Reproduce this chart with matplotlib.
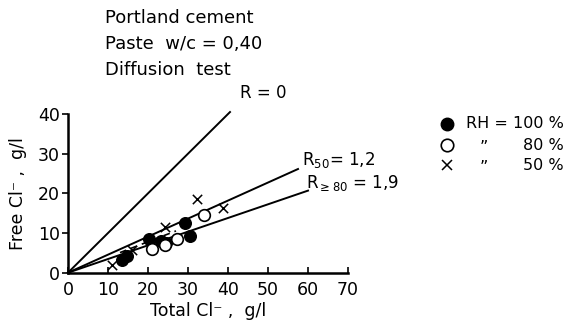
import matplotlib
matplotlib.use("Agg")
import matplotlib.pyplot as plt
from matplotlib.lines import Line2D
import numpy as np

# total vs free chloride, g/l
RH100_TOTAL = [13.4, 14.7, 20.3, 23.3, 24.6, 29.2, 30.5]
RH100_FREE = [3.2, 4.2, 8.5, 8.0, 7.4, 12.6, 9.2]
RH80_TOTAL = [20.9, 24.2, 27.3, 34.0]
RH80_FREE = [6.0, 7.0, 8.4, 14.6]
RH50_TOTAL = [10.9, 15.9, 24.2, 32.3, 38.8]
RH50_FREE = [1.9, 5.6, 11.6, 18.5, 16.3]

# binding lines free = total / (1 + R)
R_LINES = [
    (0.0, 40.5, "R = 0"),
    (1.2, 57.5, "R$_{50}$= 1,2"),
    (1.9, 60.0, "R$_{\\geq 80}$ = 1,9"),
]
DASH_X = [13.0, 27.0]
DASH_SLOPE = 0.39

X_TICKS = [0, 10, 20, 30, 40, 50, 60, 70]
Y_TICKS = [0, 10, 20, 30, 40]

LEGEND_FIRST = "RH = 100 %"
LEGEND_RIGHT = ["80 %", "50 %"]
DITTO = "\u201d"

plt.rcParams["font.family"] = "DejaVu Sans"
plt.rcParams["mathtext.default"] = "regular"

fig = plt.figure(figsize=(5.68, 3.28), dpi=100)
ax = fig.add_axes([0.1197, 0.1686, 0.493, 0.4838])

for r, x_end, label in R_LINES:
    xs = np.array([0.0, x_end])
    ax.plot(xs, xs / (1 + r), color="black", lw=1.4, clip_on=False)

ax.plot(DASH_X, np.array(DASH_X) * DASH_SLOPE, color="black", lw=1.2,
        ls=(0, (4, 3)), zorder=1)

ax.scatter(RH100_TOTAL, RH100_FREE, s=70, color="black", zorder=3)
ax.scatter(RH80_TOTAL, RH80_FREE, s=70, facecolor="white",
           edgecolor="black", linewidth=1.2, zorder=3)
ax.scatter(RH50_TOTAL, RH50_FREE, s=45, marker="x", color="black",
           linewidth=1.1, zorder=3)

ax.text(43, 45.3, R_LINES[0][2], fontsize=12, va="center")
ax.text(58.5, 28.3, R_LINES[1][2], fontsize=12, va="center")
ax.text(59.5, 22.6, R_LINES[2][2], fontsize=12, va="center")

ax.set_xlim(0, 70)
ax.set_ylim(0, 40)
ax.set_xticks(X_TICKS)
ax.set_yticks(Y_TICKS)
ax.tick_params(axis="x", direction="in", length=4, width=1.2, labelsize=12.5, pad=6)
ax.tick_params(axis="y", direction="out", length=4, width=1.2, labelsize=12.5, pad=2)
for side in ("top", "right"):
    ax.spines[side].set_visible(False)
for side in ("left", "bottom"):
    ax.spines[side].set_linewidth(1.8)

ax.set_xlabel("Total Cl\u207b ,  g/l", fontsize=12.5, labelpad=2)
ax.set_ylabel("Free Cl\u207b ,  g/l", fontsize=12.5, labelpad=8)

fig.text(105 / 568, 1 - 18 / 328, "Portland cement", fontsize=13, va="center")
fig.text(105 / 568, 1 - 44 / 328, "Paste  w/c = 0,40", fontsize=13, va="center")
fig.text(105 / 568, 1 - 70 / 328, "Diffusion  test", fontsize=13, va="center")

# hand-placed key: markers, first label, ditto rows right-aligned under it
markers = [
    dict(marker="o", ms=9, mfc="black", mec="black", mew=1.0),
    dict(marker="o", ms=9, mfc="white", mec="black", mew=1.2),
    dict(marker="x", ms=7, mfc="black", mec="black", mew=1.1),
]
rows_y = [1 - y / 328 for y in (124, 145, 165)]
for m, fy in zip(markers, rows_y):
    fig.lines.append(Line2D([447 / 568], [fy], ls="none", transform=fig.transFigure, **m))

first = fig.text(466 / 568, rows_y[0], LEGEND_FIRST, fontsize=11.5, va="center")
fig.canvas.draw()
right_edge = fig.transFigure.inverted().transform(
    first.get_window_extent().p1)[0]
for label, fy in zip(LEGEND_RIGHT, rows_y[1:]):
    fig.text(right_edge, fy, label, fontsize=11.5, va="center", ha="right")
    fig.text(480 / 568, fy - 0.008, DITTO, fontsize=11.5, va="center")

fig.savefig("out.png", dpi=100)
